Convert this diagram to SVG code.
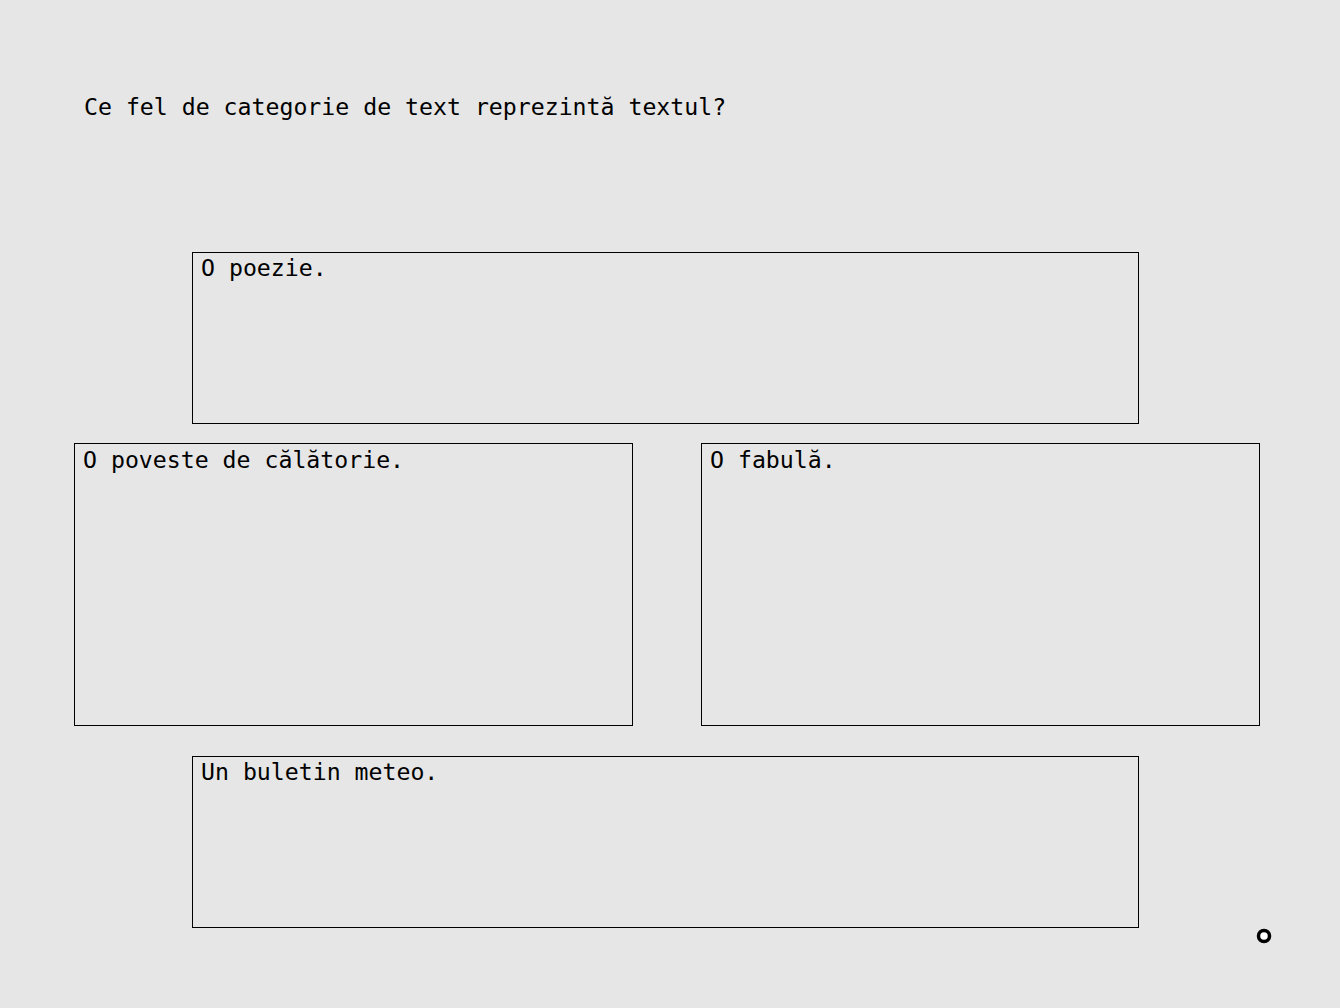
<svg xmlns="http://www.w3.org/2000/svg" width="1340" height="1008" viewBox="0 0 1340 1008">
<style>
.t{font-family:"DejaVu Sans Mono","Liberation Mono",monospace;font-size:23.2px;fill:#000}
.b{fill:none;stroke:#000;stroke-width:1}
</style>
<rect x="0" y="0" width="1340" height="1008" fill="#e6e6e6"/>
<text class="t" x="84" y="115">Ce fel de categorie de text reprezintă textul?</text>
<g id="node-poezie">
<rect class="b" x="192.5" y="252.5" width="946" height="171"/>
<text class="t" x="201" y="276">O poezie.</text>
</g>
<g id="node-poveste">
<rect class="b" x="74.5" y="443.5" width="558" height="282"/>
<text class="t" x="83" y="468">O poveste de călătorie.</text>
</g>
<g id="node-fabula">
<rect class="b" x="701.5" y="443.5" width="558" height="282"/>
<text class="t" x="710" y="468">O fabulă.</text>
</g>
<g id="node-meteo">
<rect class="b" x="192.5" y="756.5" width="946" height="171"/>
<text class="t" x="201" y="780">Un buletin meteo.</text>
</g>
<g id="connectors"></g>
<circle cx="1264" cy="936" r="5.5" fill="#fff" stroke="#000" stroke-width="3.5"/>
</svg>
